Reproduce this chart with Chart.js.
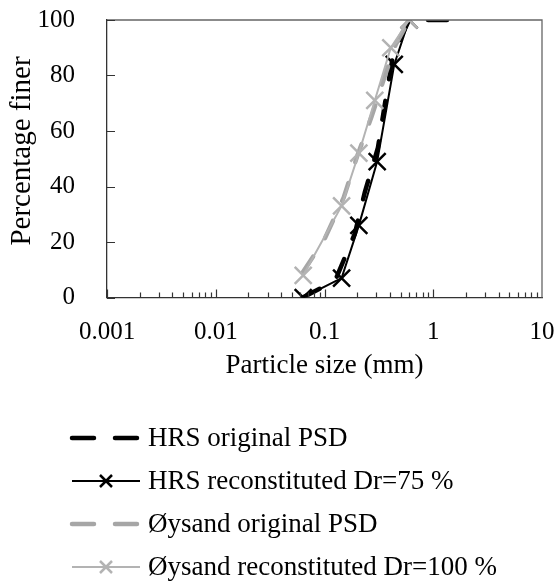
<!DOCTYPE html>
<html><head><meta charset="utf-8">
<script src="https://cdn.jsdelivr.net/npm/chart.js@4"></script>
<style>html,body{margin:0;padding:0;background:#fff}#wrap{width:558px;height:588px;position:relative}</style>
</head><body><div id="wrap"><canvas id="c" width="558" height="588"></canvas></div>
<script>
// ---- data (particle size in mm, percentage finer in %) ----
const seriesNames = ["HRS original PSD", "HRS reconstituted Dr=75 %", "Øysand original PSD", "Øysand reconstituted Dr=100 %"];
const hrsOrigSize   = [0.063, 0.125, 0.19, 0.235, 0.31, 0.36, 0.43, 0.6, 1, 2];
const hrsOrigFiner  = [0, 6, 23, 38, 54, 70, 88, 100, 100, 100];
const hrsRecSize    = [0.0637, 0.1436, 0.207, 0.305, 0.438, 0.6];
const hrsRecFiner   = [0, 7, 26, 49, 84, 100];
const oysOrigSize   = [0.063, 0.1, 0.15, 0.2, 0.27, 0.36, 0.45, 0.6];
const oysOrigFiner  = [9, 21, 36, 51, 65, 80, 91, 100];
const oysRecSize    = [0.0637, 0.1436, 0.207, 0.29, 0.407, 0.6];
const oysRecFiner   = [8, 33, 52, 71, 90, 100];
const xTickValues   = [0.001, 0.01, 0.1, 1, 10];
const yTickValues   = [0, 20, 40, 60, 80, 100];
const xTitle = "Particle size (mm)";
const yTitle = "Percentage finer";

const pts = (xs, ys) => xs.map((x, i) => ({x, y: ys[i]}));
const FONT = "'Liberation Serif', 'Times New Roman', serif";
const noPad = s => { s.paddingTop = 0; s.paddingBottom = 0; s.paddingLeft = 0; s.paddingRight = 0; };

const frameTicks = {
  id: 'frameTicks',
  afterDatasetsDraw(chart) {
    const {ctx, chartArea: a, scales: {x, y}} = chart;
    ctx.save();
    ctx.strokeStyle = '#666'; ctx.lineWidth = 1.3;
    ctx.beginPath();
    ctx.moveTo(a.left, a.top); ctx.lineTo(a.right, a.top); ctx.lineTo(a.right, a.bottom);
    ctx.stroke();
    ctx.strokeStyle = '#333'; ctx.lineWidth = 1.2;
    ctx.beginPath();
    for (let d = -3; d < 1; d++) {
      for (let k = 1; k <= 9; k++) {
        const v = k * Math.pow(10, d);
        const px = Math.round(x.getPixelForValue(v)) + 0.5;
        const len = k === 1 ? 8 : 5;
        ctx.moveTo(px, a.bottom); ctx.lineTo(px, a.bottom - len);
      }
    }
    yTickValues.forEach(v => {
      const py = Math.round(y.getPixelForValue(v)) + 0.5;
      ctx.moveTo(a.left, py); ctx.lineTo(a.left + 8, py);
    });
    ctx.stroke();
    ctx.restore();
  },
  afterDraw(chart) {
    const {ctx, chartArea: a} = chart;
    ctx.save();
    ctx.fillStyle = '#000';
    ctx.textAlign = 'center'; ctx.textBaseline = 'middle';
    ctx.font = "27px " + FONT;
    ctx.fillText(xTitle, (a.left + a.right) / 2, 366);
    ctx.font = "29px " + FONT;
    ctx.translate(22, 151); ctx.rotate(-Math.PI / 2);
    ctx.fillText(yTitle, 0, 0);
    ctx.restore();
  }
};

const customLegend = {
  id: 'customLegend',
  afterDraw(chart) {
    const ctx = chart.ctx;
    const rowY = [438, 481, 524, 567];
    chart.data.datasets.forEach((ds, i) => {
      const yy = rowY[i];
      ctx.save();
      ctx.strokeStyle = ds.borderColor; ctx.lineWidth = ds.borderWidth;
      ctx.lineCap = ds.borderCapStyle || 'butt';
      ctx.setLineDash(ds.legendDash || []);
      ctx.beginPath(); ctx.moveTo(72, yy); ctx.lineTo(140, yy); ctx.stroke();
      ctx.setLineDash([]);
      if (ds.pointRadius > 0) {
        const r = 6;
        ctx.strokeStyle = ds.pointBorderColor; ctx.lineWidth = ds.pointBorderWidth;
        ctx.beginPath();
        ctx.moveTo(106 - r, yy - r); ctx.lineTo(106 + r, yy + r);
        ctx.moveTo(106 + r, yy - r); ctx.lineTo(106 - r, yy + r);
        ctx.stroke();
      }
      ctx.fillStyle = '#000';
      ctx.font = "27px " + FONT;
      ctx.textBaseline = 'middle'; ctx.textAlign = 'left';
      ctx.fillText(seriesNames[i], 148, yy + 1);
      ctx.restore();
    });
  }
};

new Chart(document.getElementById('c'), {
  type: 'line',
  data: {
    datasets: [
      { label: seriesNames[0], data: pts(hrsOrigSize, hrsOrigFiner), borderColor: '#000', borderWidth: 4.5,
        borderDash: [19, 22], legendDash: [22, 21], borderCapStyle: 'round', pointRadius: 0, order: 4, tension: 0 },
      { label: seriesNames[1], data: pts(hrsRecSize, hrsRecFiner), borderColor: '#000', borderWidth: 2,
        pointStyle: 'crossRot', pointRadius: 12, pointBorderWidth: 2.5, pointBorderColor: '#000', order: 3, tension: 0 },
      { label: seriesNames[2], data: pts(oysOrigSize, oysOrigFiner), borderColor: '#a6a6a6', borderWidth: 4.5,
        borderDash: [19, 22], legendDash: [22, 21], borderCapStyle: 'round', pointRadius: 0, order: 2, tension: 0 },
      { label: seriesNames[3], data: pts(oysRecSize, oysRecFiner), borderColor: '#b3b3b3', borderWidth: 2,
        pointStyle: 'crossRot', pointRadius: 12, pointBorderWidth: 2.5, pointBorderColor: '#b3b3b3', order: 1, tension: 0 }
    ]
  },
  options: {
    responsive: false, animation: false,
    layout: { padding: { top: 20, right: 16, left: 0, bottom: 200 } },
    plugins: { legend: { display: false }, tooltip: { enabled: false } },
    scales: {
      x: {
        type: 'logarithmic', min: 0.001, max: 10,
        afterBuildTicks: s => { s.ticks = xTickValues.map(v => ({value: v})); },
        afterFit: s => { s.height = 90.5; noPad(s); },
        ticks: { callback: v => String(v), color: '#000', font: { family: FONT, size: 25 }, padding: 12, maxRotation: 0, autoSkip: false },
        grid: { display: false },
        border: { display: true, color: '#333', width: 1.3 },
        title: { display: false }
      },
      y: {
        min: 0, max: 100,
        afterBuildTicks: s => { s.ticks = yTickValues.map(v => ({value: v})); },
        afterFit: s => { s.width = 107; noPad(s); },
        ticks: { color: '#000', font: { family: FONT, size: 25 }, padding: 24 },
        grid: { display: false },
        border: { display: true, color: '#333', width: 1.3 },
        title: { display: false }
      }
    }
  },
  plugins: [frameTicks, customLegend]
});
</script></body></html>
